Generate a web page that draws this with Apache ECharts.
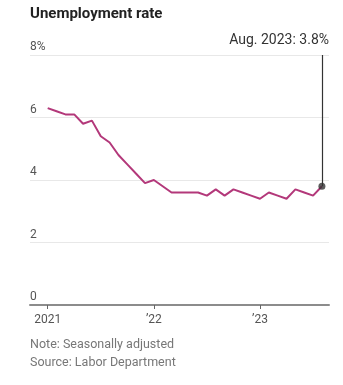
<!DOCTYPE html>
<html><head><meta charset="utf-8">
<script src="https://cdn.jsdelivr.net/npm/echarts@6/dist/echarts.min.js"></script>
<style>html,body{margin:0;padding:0;background:#fff}#c{width:343px;height:385px}</style>
</head><body><div id="c"></div>
<script>
// Monthly unemployment rate, Jan 2021 – Aug 2023
const months = ['2021-01','2021-02','2021-03','2021-04','2021-05','2021-06','2021-07','2021-08','2021-09','2021-10','2021-11','2021-12',
  '2022-01','2022-02','2022-03','2022-04','2022-05','2022-06','2022-07','2022-08','2022-09','2022-10','2022-11','2022-12',
  '2023-01','2023-02','2023-03','2023-04','2023-05','2023-06','2023-07','2023-08'];
const rate = [6.3,6.2,6.1,6.1,5.8,5.9,5.4,5.2,4.8,4.5,4.2,3.9,
  4.0,3.8,3.6,3.6,3.6,3.6,3.5,3.7,3.5,3.7,3.6,3.5,
  3.4,3.6,3.5,3.4,3.7,3.6,3.5,3.8];
const xTickIdx = [0,12,24];
const xTickLabels = ['2021',"\u201922","\u201923"];
const yTicks = [0,2,4,6,8];
const annotation = 'Aug. 2023: 3.8%';

const font = 'Roboto, "Noto Sans", sans-serif';
const data = rate.map((v,i)=>[i,v]);
const last = data[data.length-1];

const chart = echarts.init(document.getElementById('c'));
chart.setOption({
  animation:false,
  textStyle:{fontFamily:font},
  title:[
    {text:'Unemployment rate',left:30,top:7,padding:0,textStyle:{fontFamily:font,fontSize:15,fontWeight:'bold',color:'#222'}},
    {text:annotation,right:14,top:33,padding:0,textStyle:{fontFamily:font,fontSize:14,fontWeight:'normal',color:'#333'}},
    {text:'Note: Seasonally adjusted\nSource: Labor Department',left:30,top:336,padding:0,textStyle:{fontFamily:font,fontSize:12.5,fontWeight:'normal',color:'#777',lineHeight:18}}
  ],
  grid:{left:30,right:14,top:55,bottom:80,containLabel:false},
  xAxis:{type:'value',min:-2,max:31.8,
    axisLine:{show:true,lineStyle:{color:'#8c8c8c',width:2}},
    splitLine:{show:false},
    axisTick:{show:true,customValues:xTickIdx,length:4,lineStyle:{color:'#666'}},
    axisLabel:{customValues:xTickIdx,formatter:v=>xTickLabels[xTickIdx.indexOf(v)],color:'#555',fontSize:12,margin:9}
  },
  yAxis:{type:'value',min:0,max:8,interval:2,
    axisLine:{show:false},axisTick:{show:false},
    splitLine:{lineStyle:{color:'#e8e8e8',width:1}},
    axisLabel:{inside:true,margin:0,verticalAlign:'bottom',padding:[0,0,2,0],color:'#555',fontSize:12,
      formatter:v=>v===8?'8%':String(v)}
  },
  series:[
    {type:'line',data:data,showSymbol:false,lineStyle:{color:'#b3387a',width:2},
     markLine:{silent:true,symbol:'none',label:{show:false},lineStyle:{color:'#333',width:1.2,type:'solid'},
       data:[[{coord:[last[0],last[1]]},{coord:[last[0],8]}]]}
    },
    {type:'scatter',data:[last],symbol:'circle',symbolSize:7,itemStyle:{color:'#333'},z:5}
  ]
});
</script></body></html>
